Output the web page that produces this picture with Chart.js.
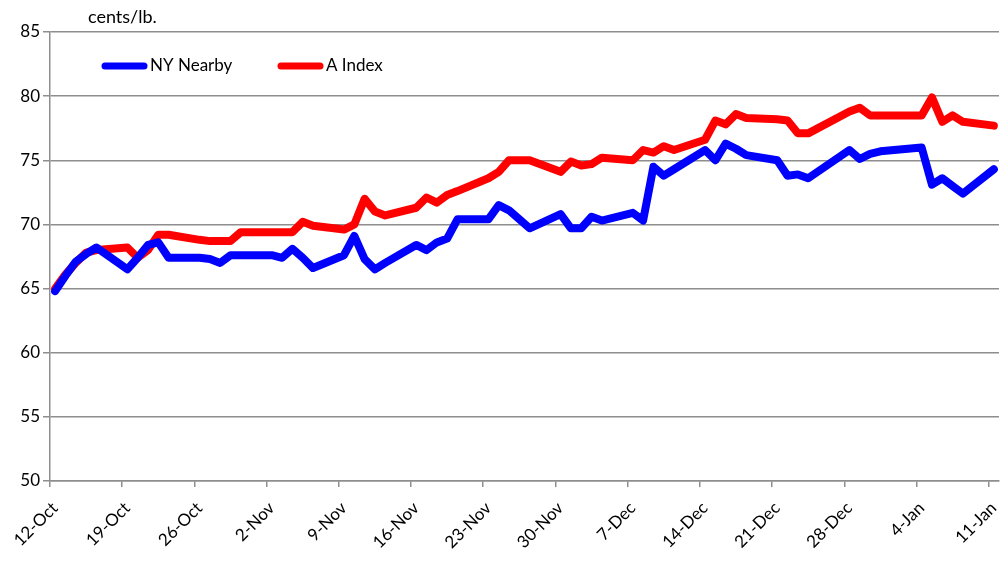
<!DOCTYPE html>
<html>
<head>
<meta charset="utf-8">
<script src="https://cdn.jsdelivr.net/npm/chart.js@4.4.1/dist/chart.umd.min.js"></script>
<style>
  html, body { margin: 0; padding: 0; background: #fff; }
  #wrap { width: 1002px; height: 565px; }
</style>
</head>
<body>
<div id="wrap"><canvas id="chart" width="1002" height="565"></canvas></div>
<script>
// ── Data: trading days, counted in days from 12-Oct ──
const DAYS = [
  0, 1, 2, 3, 4, 7, 8, 9, 10, 11, 14, 15, 16, 17, 18, 21, 22, 23, 24, 25,
  28, 29, 30, 31, 32, 35, 36, 37, 38, 39, 42, 43, 44, 46, 49, 50, 51, 52, 53,
  56, 57, 58, 59, 60, 63, 64, 65, 66, 67, 70, 71, 72, 73, 77, 78, 79, 80,
  84, 85, 86, 87, 88, 91
];
const NY_NEARBY = [
  64.8, 66.0, 67.1, 67.7, 68.2, 66.5, 67.4, 68.4, 68.6, 67.4, 67.4, 67.3, 67.0, 67.6, 67.6, 67.6, 67.4, 68.1, 67.4, 66.6,
  67.6, 69.1, 67.3, 66.5, 67.0, 68.4, 68.0, 68.6, 68.9, 70.4, 70.4, 71.5, 71.1, 69.7, 70.8, 69.7, 69.7, 70.6, 70.3,
  70.9, 70.3, 74.5, 73.8, 74.3, 75.8, 75.0, 76.3, 75.9, 75.4, 75.0, 73.8, 73.9, 73.6, 75.8, 75.1, 75.5, 75.7,
  76.0, 73.1, 73.6, 73.0, 72.4, 74.3
];
const A_INDEX = [
  65.0, 66.1, 67.0, 67.8, 68.0, 68.2, 67.4, 68.0, 69.2, 69.2, 68.8, 68.7, 68.7, 68.7, 69.4, 69.4, 69.4, 69.4, 70.2, 69.9,
  69.6, 70.0, 72.0, 71.0, 70.7, 71.3, 72.1, 71.7, 72.3, 72.6, 73.6, 74.1, 75.0, 75.0, 74.1, 74.9, 74.6, 74.7, 75.2,
  75.0, 75.8, 75.6, 76.1, 75.8, 76.6, 78.1, 77.8, 78.6, 78.3, 78.2, 78.1, 77.1, 77.1, 78.8, 79.1, 78.5, 78.5,
  78.5, 79.9, 78.0, 78.5, 78.0, 77.7
];
const TICK_DAYS = [0, 7, 14, 21, 28, 35, 42, 49, 56, 63, 70, 77, 84, 91];
const TICK_LABELS = [
  "12-Oct", "19-Oct", "26-Oct", "2-Nov", "9-Nov", "16-Nov", "23-Nov",
  "30-Nov", "7-Dec", "14-Dec", "21-Dec", "28-Dec", "4-Jan", "11-Jan"
];
const UNIT = "cents/lb.";

const FONT = "Lato, 'Noto Sans', sans-serif";
const GRID = "#8e8e8e";

// Excel centres each day between its tick marks
const toPoints = (vals) => vals.map((v, i) => ({ x: DAYS[i] + 0.5, y: v }));

// ── Legend inside the plot + unit label ──
const insideLegend = {
  id: "insideLegend",
  afterDraw(chart) {
    const { ctx, chartArea } = chart;
    ctx.save();
    ctx.font = `17px ${FONT}`;
    ctx.textBaseline = "middle";
    let x = chartArea.left + 55;
    const y = chartArea.top + 34;
    chart.data.datasets.forEach((ds) => {
      ctx.strokeStyle = ds.borderColor;
      ctx.lineWidth = 7;
      ctx.lineCap = "round";
      ctx.beginPath();
      ctx.moveTo(x, y);
      ctx.lineTo(x + 39, y);
      ctx.stroke();
      ctx.fillStyle = "#000";
      ctx.fillText(ds.label, x + 45, y);
      x += 176;
    });
    ctx.textBaseline = "alphabetic";
    ctx.font = `18px ${FONT}`;
    ctx.fillText(UNIT, chartArea.left + 38, chartArea.top - 9);
    ctx.restore();
  },
};

new Chart(document.getElementById("chart"), {
  type: "line",
  data: {
    datasets: [
      {
        label: "NY Nearby",
        data: toPoints(NY_NEARBY),
        borderColor: "#0000ff",
        borderWidth: 8,
        pointRadius: 0,
        borderJoinStyle: "round",
        borderCapStyle: "round",
      },
      {
        label: "A Index",
        data: toPoints(A_INDEX),
        borderColor: "#ff0000",
        borderWidth: 8,
        pointRadius: 0,
        borderJoinStyle: "round",
        borderCapStyle: "round",
      },
    ],
  },
  options: {
    responsive: false,
    animation: false,
    layout: { padding: { top: 32, right: 3, left: 0, bottom: 0 } },
    plugins: { legend: { display: false }, tooltip: { enabled: false } },
    scales: {
      x: {
        type: "linear",
        min: 0,
        max: 92,
        afterBuildTicks: (scale) => {
          scale.ticks = TICK_DAYS.map((v) => ({ value: v }));
        },
        afterFit: (scale) => {
          scale.height = 84;
          scale.paddingLeft = 0;
          scale.paddingRight = 0;
        },
        ticks: {
          autoSkip: false,
          minRotation: 45,
          maxRotation: 45,
          padding: 11,
          labelOffset: 5,
          color: "#000",
          font: { family: FONT, size: 17 },
          callback: (v) => TICK_LABELS[TICK_DAYS.indexOf(v)],
        },
        grid: { drawOnChartArea: false, color: GRID, lineWidth: 1.5, tickLength: 6 },
        border: { color: GRID, width: 1.5 },
      },
      y: {
        min: 50,
        max: 85,
        afterFit: (scale) => {
          scale.width = 50;
        },
        ticks: {
          stepSize: 5,
          padding: 3,
          color: "#000",
          font: { family: FONT, size: 17 },
        },
        grid: { color: GRID, lineWidth: 1.5, tickLength: 7 },
        border: { color: GRID, width: 1.5 },
      },
    },
  },
  plugins: [insideLegend],
});
</script>
</body>
</html>
